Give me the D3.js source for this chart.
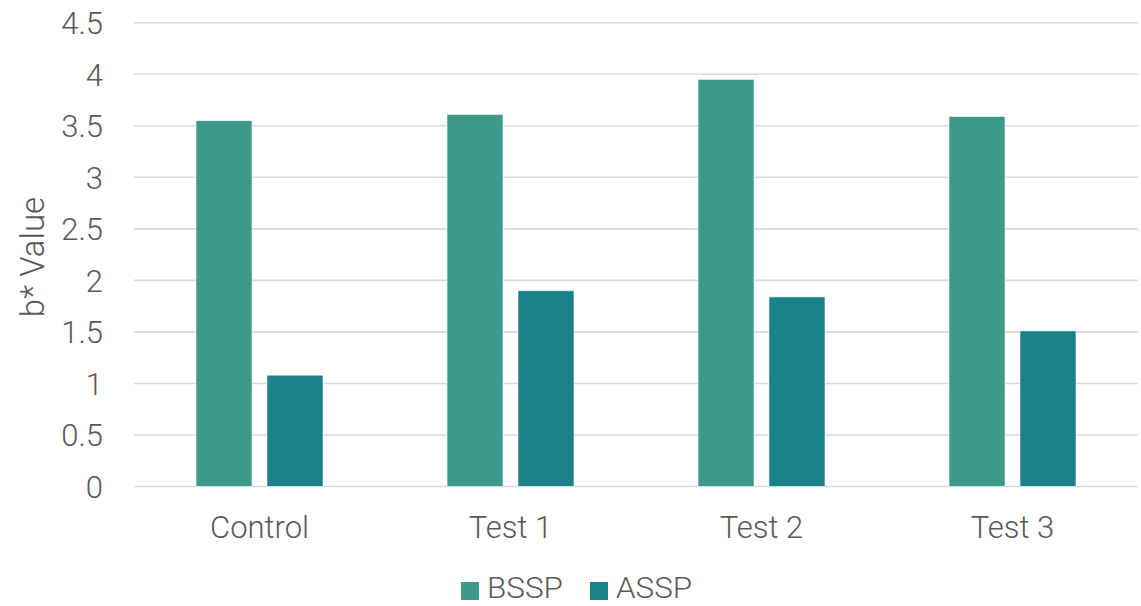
<!DOCTYPE html>
<html>
<head>
<meta charset="utf-8">
<script src="https://cdn.jsdelivr.net/npm/d3@7"></script>
<style>
  html, body { margin: 0; padding: 0; background: #fff; }
  svg { display: block; }
  text { font-family: Roboto, "Liberation Sans", sans-serif; font-weight: 300; fill: #595959; }
</style>
</head>
<body>
<svg id="chart" width="1141" height="606"></svg>
<script>
// b* value per sample, before and after treatment
const categories = ["Control", "Test 1", "Test 2", "Test 3"];
const seriesNames = ["BSSP", "ASSP"];
const bsspValues = [3.55, 3.61, 3.95, 3.59];
const asspValues = [1.08, 1.90, 1.84, 1.51];
const yTicks = [0, 0.5, 1, 1.5, 2, 2.5, 3, 3.5, 4, 4.5];
const colors = { BSSP: "#3e998c", ASSP: "#1a818a" };

const data = categories.map((c, i) => ({ category: c, BSSP: bsspValues[i], ASSP: asspValues[i] }));

const svg = d3.select("#chart");
const plot = { left: 134, right: 1138, top: 22.7, bottom: 486.5 };

const y = d3.scaleLinear().domain([0, 4.5]).range([plot.bottom, plot.top]);
const x0 = d3.scaleBand().domain(categories).range([plot.left, plot.right]).padding(0);
const bw = x0.bandwidth();
const x1 = d3.scaleBand().domain(seriesNames).range([bw * 0.247, bw * 0.753]).paddingInner(0.21);

// horizontal gridlines
svg.append("g")
  .selectAll("line")
  .data(yTicks)
  .join("line")
  .attr("x1", plot.left).attr("x2", plot.right)
  .attr("y1", d => y(d)).attr("y2", d => y(d))
  .attr("stroke", "#d9d9d9")
  .attr("stroke-width", 1.6);

// y axis labels
const yAxis = d3.axisLeft(y).tickValues(yTicks).tickSize(0).tickPadding(0).tickFormat(d3.format("~g"));
svg.append("g")
  .attr("transform", `translate(103,0)`)
  .call(yAxis)
  .call(g => g.select(".domain").remove())
  .call(g => g.selectAll("text")
    .attr("font-size", 31)
    .attr("font-family", null)
    .attr("fill", "#595959")
    .attr("dy", "0.35em"));

// bars
const groups = svg.append("g")
  .selectAll("g")
  .data(data)
  .join("g")
  .attr("transform", d => `translate(${x0(d.category)},0)`);

groups.selectAll("rect")
  .data(d => seriesNames.map(s => ({ key: s, value: d[s] })))
  .join("rect")
  .attr("x", d => x1(d.key))
  .attr("width", x1.bandwidth())
  .attr("y", d => y(d.value))
  .attr("height", d => y(0) - y(d.value))
  .attr("fill", d => colors[d.key])
  .attr("stroke", "rgba(255,255,255,0.6)")
  .attr("stroke-width", 1);

// category axis labels
const xAxis = d3.axisBottom(x0).tickSize(0).tickPadding(0);
svg.append("g")
  .attr("transform", `translate(0,${plot.bottom})`)
  .call(xAxis)
  .call(g => g.select(".domain").remove())
  .call(g => g.selectAll("text")
    .attr("font-size", 31)
    .attr("font-family", null)
    .attr("fill", "#595959")
    .attr("y", 41)
    .attr("dy", "0.35em"));

// y axis title
svg.append("text")
  .attr("transform", `translate(32,257) rotate(-90)`)
  .attr("text-anchor", "middle")
  .attr("dy", "0.35em")
  .attr("font-size", 33)
  .text("b* Value");

// legend
const legendItems = [
  { key: "BSSP", x: 461 },
  { key: "ASSP", x: 590 }
];
const legend = svg.append("g");
legendItems.forEach(item => {
  legend.append("rect")
    .attr("x", item.x).attr("y", 582)
    .attr("width", 18).attr("height", 18)
    .attr("fill", colors[item.key]);
  legend.append("text")
    .attr("x", item.x + 26).attr("y", 598)
    .attr("font-size", 29)
    .attr("textLength", 76)
    .attr("lengthAdjust", "spacingAndGlyphs")
    .text(item.key);
});
</script>
</body>
</html>
